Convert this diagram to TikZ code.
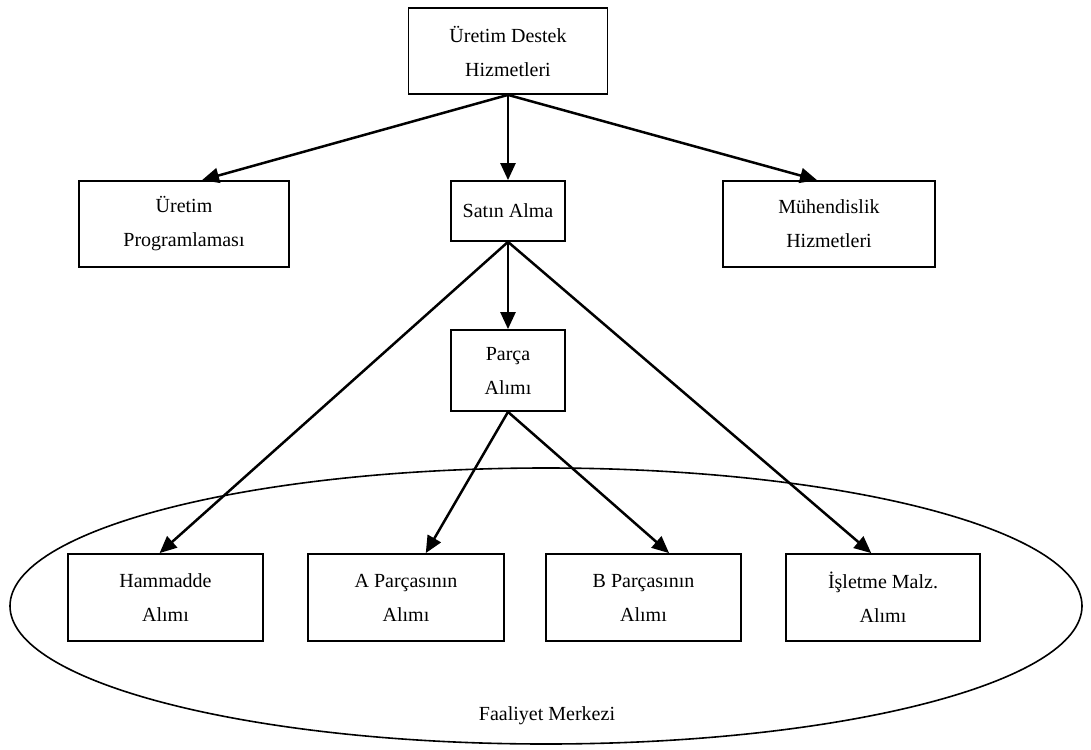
\documentclass[tikz,border=0pt]{standalone}
\usepackage{fontspec}
\setmainfont{Liberation Serif}
\usetikzlibrary{arrows.meta,shapes.geometric,calc}
\begin{document}
\begin{tikzpicture}[x=1pt,y=-1pt,
  unit/.style={draw,line width=1.8pt,inner sep=0pt,align=center,
    font=\fontsize{20}{34}\selectfont},
  link/.style={line width=2.5pt,-{Triangle[length=17pt,width=15pt]}},
  label/.style={inner sep=0pt,font=\fontsize{20}{34}\selectfont}]
  \useasboundingbox (0,0) rectangle (1091,749);
  % activity centre
  \node[ellipse,draw,line width=1.6pt,minimum width=1072pt,minimum height=276pt,inner sep=0pt] (fm) at (546,606) {};
  \node[label] (fmtext) at (547,716) {Faaliyet Merkezi};
  % upper levels
  \node[unit,minimum width=199pt,minimum height=86pt] (top) at (508,51) {Üretim Destek\\Hizmetleri};
  \node[unit,minimum width=210pt,minimum height=86pt] (prog) at (184,224) {Üretim\\Programlaması};
  \node[unit,minimum width=114pt,minimum height=60pt] (satin) at (508,211) {Satın Alma};
  \node[unit,minimum width=212pt,minimum height=86pt] (muh) at (829,224) {Mühendislik\\Hizmetleri};
  \node[unit,minimum width=114pt,minimum height=81pt] (parca) at (508,370.5) {Parça\\Alımı};
  % purchasing units
  \node[unit,minimum width=195pt,minimum height=87pt] (ham) at (165.5,597.5) {Hammadde\\Alımı};
  \node[unit,minimum width=196pt,minimum height=87pt] (apar) at (406,597.5) {A Parçasının\\Alımı};
  \node[unit,minimum width=195pt,minimum height=87pt] (bpar) at (643.5,597.5) {B Parçasının\\Alımı};
  \node[unit,minimum width=194pt,minimum height=87pt] (isl) at (883,597.5) {İşletme Malz.\\Alımı};
  % connectors
  \draw[link] (top.south) -- ($(prog.north west)!0.585!(prog.north east)$);
  \draw[link] (top.south) -- (satin.north);
  \draw[link] (top.south) -- ($(muh.north west)!0.444!(muh.north east)$);
  \draw[link] (satin.south) -- ($(ham.north west)!0.47!(ham.north east)$);
  \draw[link] (satin.south) -- (parca.north);
  \draw[link] (satin.south) -- ($(isl.north west)!0.44!(isl.north east)$);
  \draw[link] (parca.south) -- ($(apar.north west)!0.6!(apar.north east)$);
  \draw[link] (parca.south) -- ($(bpar.north west)!0.63!(bpar.north east)$);
\end{tikzpicture}
\end{document}
